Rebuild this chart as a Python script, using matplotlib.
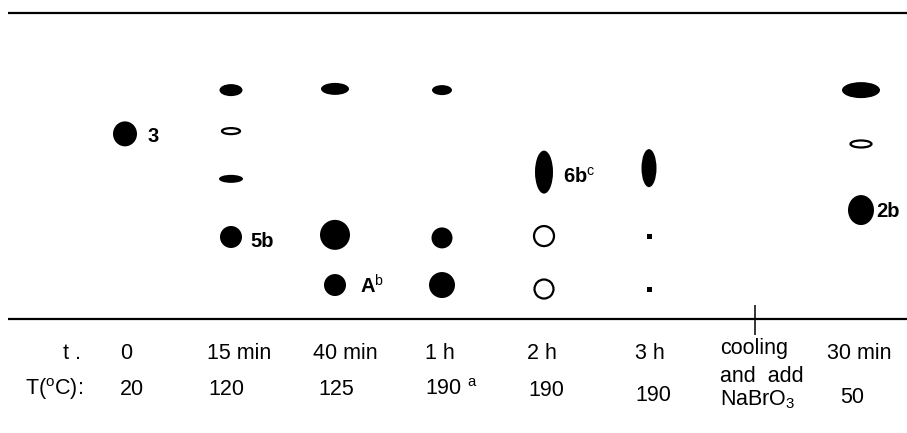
import matplotlib
matplotlib.use("Agg")
import matplotlib.pyplot as plt
from matplotlib.patches import Ellipse, Rectangle

plt.rcParams['font.family'] = ['Liberation Sans', 'DejaVu Sans']
plt.rcParams['mathtext.fontset'] = 'custom'
plt.rcParams['mathtext.rm'] = 'Liberation Sans'
plt.rcParams['mathtext.it'] = 'Liberation Sans:italic'
plt.rcParams['mathtext.bf'] = 'Liberation Sans:bold'

# colunas da placa (a coluna 6 é só a marca de "cooling")
tempos = ['0', '15 min', '40 min', '1 h', '2 h', '3 h', 'cooling', '30 min']
temperaturas = ['20', '120', '125', '190 $^{\\rm a}$', '190', '190', 'NaBrO$_3$', '50']

# manchas: coluna, Rf, largura e altura (px), tipo (f=cheia, o=vazia, s=ponto)
mancha_col = [0, 1, 1, 1, 1, 2, 2, 2, 3, 3, 3, 4, 4, 4, 5, 5, 5, 7, 7, 7]
mancha_rf = [0.605, 0.748, 0.614, 0.458, 0.268, 0.752, 0.275, 0.111,
             0.748, 0.265, 0.111, 0.480, 0.271, 0.098, 0.493, 0.271, 0.095,
             0.748, 0.572, 0.356]
mancha_w = [24, 23, 20, 24, 22, 28, 30, 22, 20, 21, 26, 18, 22, 21, 15, 5, 5, 38, 23, 26]
mancha_h = [25, 12, 8, 8, 22, 12, 30, 22, 10, 21, 26, 43, 22, 21, 38, 5, 5, 16, 9, 30]
mancha_tipo = ['f', 'f', 'o', 'f', 'f', 'f', 'f', 'f', 'f', 'f', 'f',
               'f', 'o', 'o', 'f', 's', 's', 'f', 'o', 'f']

# rótulos dos compostos
rotulo_texto = ['3', '5b', 'A$^{\\rm b}$', '6b$^{\\rm c}$', '2b']
rotulo_mancha = [0, 4, 7, 11, 19]

# layout (pixels da figura)
col_x = [125, 231, 335, 442, 544, 649, 755, 861]
base_px = 319
frente_px = 13
placa_px = base_px - frente_px
rotulo_dx = [10, 8, 14, 10, 2]
rotulo_dy = [8, 10, 8, 11, 7]
tempo_x = [120, 207, 313, 425, 527, 635, 720, 827]
temp_x = [120, 208, 318, 425, 528, 635, 720, 840]
temp_base = [395, 395, 395, 395, 396, 401, 405, 403]


def rf(px):
    return (base_px - px) / placa_px


fig = plt.figure(figsize=(9.07, 4.33), dpi=100)
ax = fig.add_axes([0, 0, 1, 1])
ax.set_xlim(0, 907)
ax.set_ylim(rf(433), rf(0))
ax.axis('off')

# linha de base e frente do solvente
ax.hlines([0, 1], 8, 907, color='black', lw=1.6)
ax.vlines(col_x[6], rf(335), rf(305), color='black', lw=1.1)

for c, r, w, h, t in zip(mancha_col, mancha_rf, mancha_w, mancha_h, mancha_tipo):
    x = col_x[c]
    if t == 's':
        ax.add_patch(Rectangle((x - w / 2, r - h / 2 / placa_px), w, h / placa_px,
                               facecolor='black', edgecolor='none'))
    elif t == 'o':
        ax.add_patch(Ellipse((x, r), w - 2, (h - 2) / placa_px,
                             facecolor='white', edgecolor='black', lw=1.6))
    else:
        ax.add_patch(Ellipse((x, r), w, h / placa_px,
                             facecolor='black', edgecolor='none'))

for txt, i, dx, dy in zip(rotulo_texto, rotulo_mancha, rotulo_dx, rotulo_dy):
    x = col_x[mancha_col[i]] + mancha_w[i] / 2 + dx
    y = mancha_rf[i] - dy / placa_px
    ax.text(x, y, txt, fontsize=14.5, fontweight='bold', ha='left', va='baseline')

# legendas de tempo e temperatura
ax.text(63, rf(359), 't .', fontsize=15.5, ha='left', va='baseline')
ax.text(25, rf(395), 'T($^{\\rm o}$C):', fontsize=15.5, ha='left', va='baseline')
for i, (tt, xx) in enumerate(zip(tempos, tempo_x)):
    yb = 354 if tt == 'cooling' else 359
    ax.text(xx, rf(yb), tt, fontsize=15.5, ha='left', va='baseline')
ax.text(tempo_x[6], rf(382), 'and  add', fontsize=15.5, ha='left', va='baseline')
for tt, xx, yb in zip(temperaturas, temp_x, temp_base):
    ax.text(xx, rf(yb), tt, fontsize=15.5, ha='left', va='baseline')

fig.savefig('out.png', dpi=100)
